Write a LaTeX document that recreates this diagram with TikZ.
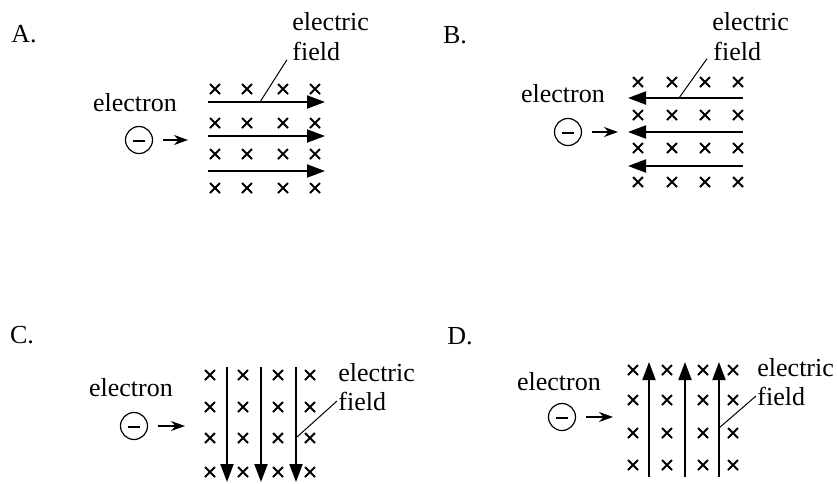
\documentclass[tikz,border=0pt]{standalone}
\usepackage{fontspec}
\setmainfont{Liberation Serif}
\usetikzlibrary{arrows.meta, positioning}
\tikzset{
  fieldarrow/.style={line width=1pt, -{Triangle[length=9pt,width=6.5pt]}},
  elecarrow/.style={line width=0.6pt, -{Stealth[length=7pt,width=5pt]}, shorten <=5pt},
  crs/.style={line width=0.95pt},
  minus/.style={line width=0.6pt},
  leader/.style={line width=0.5pt},
  elec/.style={circle, draw, line width=0.6pt, minimum size=13.5pt},
}
\begin{document}
\begin{tikzpicture}[x=0.5pt, y=-0.5pt, every node/.style={inner sep=0pt, font=\fontsize{13}{15}\selectfont}]
\useasboundingbox (0,0) rectangle (837,483);

% A: field to the right
\node (labA) at (24,34) {A.};
\node[anchor=west] (elA) at (292,22) {electric};
\node[anchor=west] (fiA) at (292,51) {field};
\node (txA) at (135,103) {electron};
\node[elec] (eA) at (139,140) {};
\draw[minus] ([shift={(-3.2pt,-0.5pt)}]eA.center) -- ([shift={(3.2pt,-0.5pt)}]eA.center);
\coordinate (vA) at (188,140);
\draw[elecarrow] (eA) -- (vA);
\foreach \x in {215,247,283,315} \foreach \y in {89,123,154,188}
  \draw[crs] (\x-5,\y-5) -- ++(10,10) (\x-5,\y+5) -- ++(10,-10);
\foreach \y in {102,136,171} {
  \coordinate (aA0) at (208,\y); \coordinate (aA1) at (325,\y);
  \draw[fieldarrow] (aA0) -- (aA1);
}
\coordinate (pA) at (260,102);
\draw[leader] ([shift={(-5,-1)}]fiA.south west) -- (pA);

% B: field to the left
\node (labB) at (455,35) {B.};
\node[anchor=west] (elB) at (712,22) {electric};
\node[anchor=west] (fiB) at (713,51) {field};
\node (txB) at (563,94) {electron};
\node[elec] (eB) at (568,132) {};
\draw[minus] ([shift={(-3.2pt,-0.5pt)}]eB.center) -- ([shift={(3.2pt,-0.5pt)}]eB.center);
\coordinate (vB) at (618,132);
\draw[elecarrow] (eB) -- (vB);
\foreach \x in {638,672,705,738} \foreach \y in {82,115,148,182}
  \draw[crs] (\x-5,\y-5) -- ++(10,10) (\x-5,\y+5) -- ++(10,-10);
\foreach \y in {98,132,166} {
  \coordinate (aB0) at (743,\y); \coordinate (aB1) at (628,\y);
  \draw[fieldarrow] (aB0) -- (aB1);
}
\coordinate (pB) at (679,98);
\draw[leader] ([shift={(-6,-2)}]fiB.south west) -- (pB);

% C: field downwards
\node (labC) at (22,335) {C.};
\node[anchor=west] (elC) at (338,373) {electric};
\node[anchor=west] (fiC) at (338,401) {field};
\node (txC) at (131,388) {electron};
\node[elec] (eC) at (134,426) {};
\draw[minus] ([shift={(-3.2pt,-0.5pt)}]eC.center) -- ([shift={(3.2pt,-0.5pt)}]eC.center);
\coordinate (vC) at (185,426);
\draw[elecarrow] (eC) -- (vC);
\foreach \x in {210,243,278,310} \foreach \y in {375,407,438,472}
  \draw[crs] (\x-5,\y-5) -- ++(10,10) (\x-5,\y+5) -- ++(10,-10);
\foreach \x in {227,261,296} {
  \coordinate (aC0) at (\x,367); \coordinate (aC1) at (\x,482);
  \draw[fieldarrow] (aC0) -- (aC1);
}
\coordinate (pC) at (297,437);
\draw[leader] ([xshift=-0.5pt]fiC.west) -- (pC);

% D: field upwards
\node (labD) at (460,336) {D.};
\node[anchor=west] (elD) at (757,368) {electric};
\node[anchor=west] (fiD) at (757,396) {field};
\node (txD) at (559,382) {electron};
\node[elec] (eD) at (562,417) {};
\draw[minus] ([shift={(-3.2pt,-0.5pt)}]eD.center) -- ([shift={(3.2pt,-0.5pt)}]eD.center);
\coordinate (vD) at (613,417);
\draw[elecarrow] (eD) -- (vD);
\foreach \x in {633,667,703,733} \foreach \y in {370,400,433,465}
  \draw[crs] (\x-5,\y-5) -- ++(10,10) (\x-5,\y+5) -- ++(10,-10);
\foreach \x in {649,685,719} {
  \coordinate (aD0) at (\x,477); \coordinate (aD1) at (\x,362);
  \draw[fieldarrow] (aD0) -- (aD1);
}
\coordinate (pD) at (719,428);
\draw[leader] ([xshift=-0.5pt]fiD.west) -- (pD);
\end{tikzpicture}
\end{document}
